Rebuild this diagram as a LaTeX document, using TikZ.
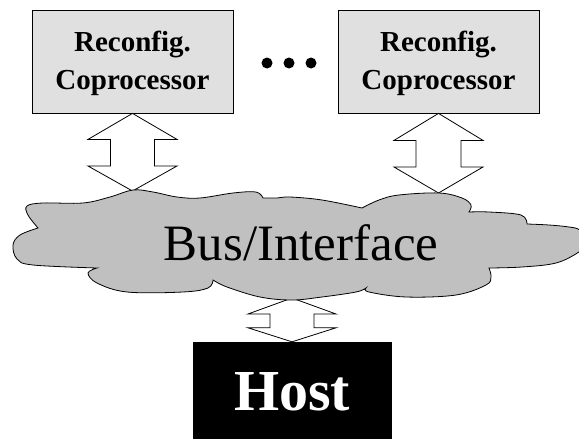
\documentclass[tikz,border=0pt]{standalone}
\usepackage{fontspec}
\setmainfont{Liberation Serif}
\usetikzlibrary{calc}

\definecolor{boxgray}{RGB}{224,224,224}
\definecolor{cloudgray}{RGB}{192,192,192}

\tikzset{
  copro/.style={draw=black, line width=0.8pt, fill=boxgray, rectangle,
    minimum width=201pt, minimum height=103pt, inner sep=0pt},
  coprotext/.style={anchor=base, font=\fontsize{29}{35}\selectfont\bfseries, inner sep=0pt},
  hostbox/.style={fill=black, draw=black, rectangle, minimum width=198pt,
    minimum height=118pt, inner sep=0pt},
  hosttext/.style={anchor=base, text=white, font=\fontsize{58}{64}\selectfont\bfseries, inner sep=0pt},
  bustext/.style={anchor=base, font=\fontsize{51}{56}\selectfont, inner sep=0pt},
  cloud/.style={draw=black, line width=0.8pt, fill=cloudgray},
  linkarrow/.style={draw=black, line width=0.8pt, fill=white, line join=miter},
  dot/.style={fill=black}
}

% hollow two-headed arrow: top tip, bottom tip, head half width,
% shaft half width, upper head length, lower head length
\newcommand\biarrow[6]{%
  \draw[linkarrow] (#1) -- ++(#3,#5) -- ++({#4-#3},0)
    -- ($(#2)+(#4,-#6)$) -- ++({#3-#4},0) -- (#2)
    -- ++({-#3},{-#6}) -- ++({#3-#4},0)
    -- ($(#1)+(-#4,#5)$) -- ++({#4-#3},0) -- cycle;
}

\begin{document}
\begin{tikzpicture}[x=1pt, y=-1pt]
  \useasboundingbox (0,0) rectangle (579,439);
  \clip (0,0) rectangle (579,439);

  % coprocessor boxes
  \node[copro] (c1) at (132.5,61.5) {};
  \node[copro] (c2) at (438.5,61.5) {};
  \node[coprotext] (c1a) at (132.5,52) {Reconfig.};
  \node[coprotext] (c1b) at (132.5,89) {Coprocessor};
  \node[coprotext] (c2a) at (438.5,52) {Reconfig.};
  \node[coprotext] (c2b) at (438.5,89) {Coprocessor};

  % ellipsis between the coprocessors
  \fill[dot] (267,63) circle (5.5);
  \fill[dot] (289,63) circle (5.5);
  \fill[dot] (311,63) circle (5.5);

  % host
  \node[hostbox] (host) at (292,401) {};
  \node[hosttext] (hostlabel) at (292,410) {Host};

  % attachment points on the bus cloud
  \coordinate (busN1) at (132.5,191);
  \coordinate (busN2) at (438.5,193);
  \coordinate (busS)  at (292,298);

  % links
  \biarrow{c1.south}{busN1}{44.5}{22}{26}{25}
  \biarrow{c2.south}{busN2}{44.5}{22.5}{27}{26}
  \biarrow{busS}{host.north}{44}{22}{16}{14}

  % bus cloud, lobe by lobe
  \path[cloud]
    plot[smooth, tension=0.6] coordinates {(38,228) (28,215) (27,206) (43,203) (83,203) (110,197) (133,190) (153,192) (177,197) (200,198) (233,193) (256,192) (263,198)}
    -- plot[smooth, tension=0.6] coordinates {(263,198) (277,198) (290,197) (322,200) (362,208)}
    -- plot[smooth, tension=0.6] coordinates {(362,208) (379,200) (399,195) (439,193) (462,198) (471,205) (469,212)}
    -- plot[smooth, tension=0.6] coordinates {(469,212) (489,212) (521,215) (527,224)}
    -- plot[smooth, tension=0.6] coordinates {(527,224) (549,225) (569,227) (580,230) (592,241) (579,252) (556,263) (522,267) (489,268)}
    -- plot[smooth, tension=0.6] coordinates {(489,268) (491,277) (486,285) (456,295) (406,297) (369,292) (366,288)}
    -- plot[smooth, tension=0.6] coordinates {(366,288) (356,292) (322,297) (292,300) (260,297) (227,287) (213,280)}
    -- plot[smooth, tension=0.6] coordinates {(213,280) (208,288) (183,292) (127,292) (97,283) (88,273) (97,268)}
    -- plot[smooth, tension=0.6] coordinates {(97,268) (33,265) (17,259) (13,245) (20,235) (38,228)}
    -- cycle;
  \node[bustext] (bus) at (301,260) {Bus/Interface};
\end{tikzpicture}
\end{document}
